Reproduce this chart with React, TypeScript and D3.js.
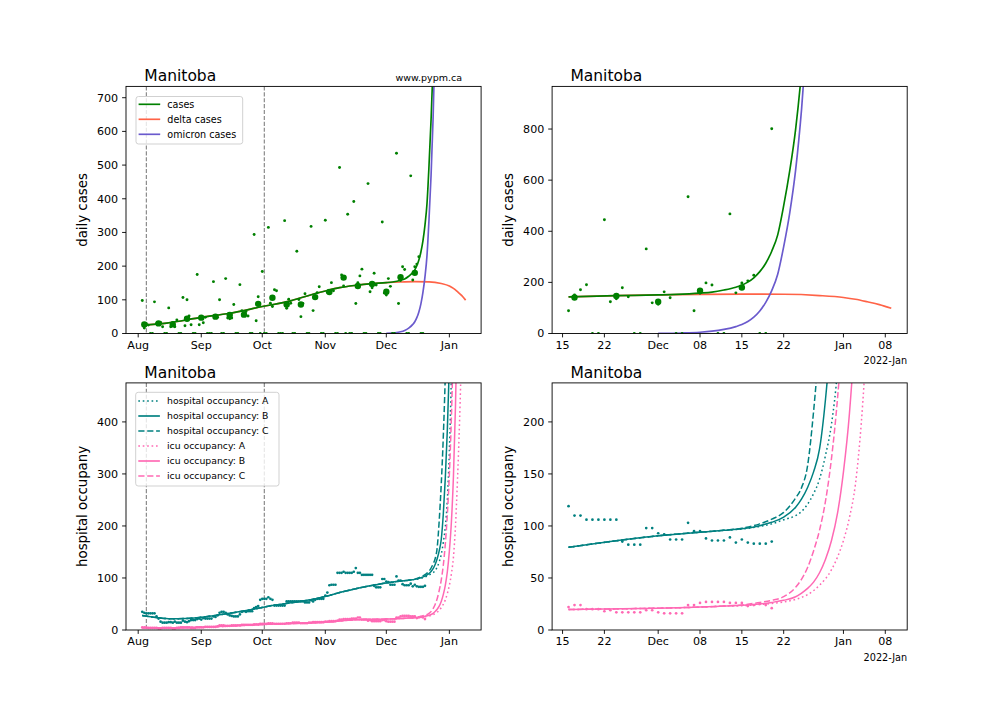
import React from 'react';
import * as d3 from 'd3';

const FONT = "'DejaVu Sans', 'Liberation Sans', sans-serif";

// ---------------- DATA ----------------
// daily reported cases, one value per day starting 2021-08-03
const casesStart = '2021-08-03';
const dailyCases = [
  // Aug 3 - Aug 31
  98, 16, 29, 25, 0, 0, 94, 30, 33, 33, 20, 0, 0, 76, 20, 33, 20, 40, 0, 0, 107, 23, 100, 52, 26, 0, 0, 175, 26,
  // Sep
  48, 32, 48, 0, 0, 0, 154, 48, 48, 100, 0, 0, 163, 46, 44, 46, 86, 0, 0, 145, 68, 62, 65, 52, 0, 0, 294, 38, 109, 0,
  // Oct
  184, 0, 0, 315, 90, 80, 130, 127, 0, 0, 0, 335, 75, 102, 90, 0, 0, 244, 101, 50, 89, 118, 0, 0, 318, 68, 110, 121, 139, 0, 0,
  // Nov
  336, 122, 125, 151, 127, 0, 0, 493, 174, 141, 0, 354, 0, 0, 392, 89, 151, 171, 191, 0, 0, 445, 124, 136, 179, 144, 0, 0, 331, 120,
  // Dec 1 - Dec 20
  114, 163, 140, 0, 0, 535, 89, 157, 198, 190, 0, 0, 468, 159, 198, 206, 228, 0, 0, 801,
];

// weekly markers (large dots)
const weeklyDates = [
  '2021-08-04', '2021-08-11', '2021-08-18', '2021-08-25', '2021-09-01', '2021-09-08', '2021-09-15',
  '2021-09-22', '2021-09-29', '2021-10-06', '2021-10-13', '2021-10-20', '2021-10-27', '2021-11-03',
  '2021-11-10', '2021-11-17', '2021-11-24', '2021-12-01', '2021-12-08', '2021-12-15',
];
const weeklyCases = [27, 30, 27, 44, 47, 50, 55, 56, 88, 106, 86, 86, 108, 123, 166, 141, 147, 124, 167, 180];

// model: delta cases
const deltaDates = [
  '2021-08-03', '2021-08-15', '2021-09-01', '2021-09-15', '2021-10-01', '2021-10-15', '2021-10-20',
  '2021-11-01', '2021-11-08', '2021-11-16', '2021-11-24', '2021-12-01', '2021-12-08', '2021-12-15',
  '2021-12-22', '2021-12-28', '2022-01-01', '2022-01-03', '2022-01-05', '2022-01-07', '2022-01-09',
];
const deltaValues = [25, 31, 48, 60, 80, 97, 106, 126, 136, 143, 148, 151, 153, 154, 153.5, 148.5, 141, 134, 124, 113, 99];

// model: total cases
const casesCurveDates = [
  '2021-08-03', '2021-08-15', '2021-09-01', '2021-09-15', '2021-10-01', '2021-10-15', '2021-10-20',
  '2021-11-01', '2021-11-08', '2021-11-16', '2021-11-24', '2021-12-01', '2021-12-04', '2021-12-08',
  '2021-12-10', '2021-12-12', '2021-12-14', '2021-12-15', '2021-12-16', '2021-12-17', '2021-12-18',
  '2021-12-19', '2021-12-20', '2021-12-21', '2021-12-22', '2021-12-23', '2021-12-24', '2021-12-25', '2021-12-26',
];
const casesCurveValues = [
  25, 31, 48, 60, 80, 97, 106, 126, 136, 143, 148, 151, 153, 158, 162, 170, 181, 189, 201, 218, 242,
  275, 322, 386, 500, 635, 800, 1030, 1350,
];

// model: omicron cases
const omicronDates = [
  '2021-12-01', '2021-12-05', '2021-12-08', '2021-12-10', '2021-12-12', '2021-12-14', '2021-12-15',
  '2021-12-16', '2021-12-17', '2021-12-18', '2021-12-19', '2021-12-20', '2021-12-21', '2021-12-22',
  '2021-12-23', '2021-12-24', '2021-12-25', '2021-12-26',
];
const omicronValues = [0.3, 2, 5, 9, 16, 27, 35, 47, 64, 88, 122, 168, 232, 340, 470, 640, 880, 1200];

// hospital / icu occupancy, daily from 2021-08-03
const hospStart = '2021-08-03';
const hospDaily = [
  35, 33, 32, 32, 32, 32, 32, 26, 22, 16, 14, 14, 14, 15, 15, 14, 16, 14, 14, 14, 18, 16, 15, 17, 19, 19, 19, 21, 22,
  20, 23, 22, 22, 22, 22, 26, 25, 28, 33, 35, 35, 33, 30, 28, 27, 26, 26, 26, 30, 35, 36, 35, 36, 36, 36, 42, 44, 46, 58,
  60, 60, 60, 63, 60, 58, 47, 47, 47, 47, 47, 47, 55, 55, 55, 55, 55, 55, 55, 55, 55, 53, 53, 53, 57, 55, 58, 60, 60, 60, 60,
  66, 72, 86, 87, 87, 87, 110, 110, 110, 112, 110, 110, 110, 110, 112, 119, 110, 110, 106, 106, 106, 106, 106, 106, 85, 82, 82, 82, 98, 98,
  93, 92, 87, 87, 87, 103, 95, 95, 88, 86, 86, 86, 89, 84, 87, 84, 83, 83, 83, 85,
];
const icuDaily = [
  5, 5, 5, 4, 4, 4, 4, 4, 3, 3, 4, 4, 4, 4, 4, 3, 3, 4, 4, 5, 5, 5, 5, 5, 4, 4, 4, 5, 5,
  5, 5, 6, 6, 6, 6, 6, 6, 7, 9, 9, 9, 8, 8, 8, 9, 9, 9, 9, 9, 10, 10, 10, 10, 10, 10, 11, 11, 11, 12,
  12, 12, 12, 13, 13, 13, 12, 12, 12, 12, 12, 12, 13, 13, 13, 14, 14, 14, 14, 13, 13, 13, 13, 14, 14, 15, 15, 15, 15, 15, 15,
  16, 16, 17, 17, 17, 17, 18, 20, 20, 21, 21, 21, 21, 22, 22, 22, 24, 24, 20, 20, 20, 18, 19, 17, 17, 17, 17, 17, 19, 19,
  17, 16, 16, 16, 16, 24, 24, 26, 27, 27, 27, 27, 26, 26, 26, 23, 24, 25, 24, 21,
];

// model: hospital occupancy (shared early part)
const hospEarlyDates = [
  '2021-08-03', '2021-08-10', '2021-08-17', '2021-08-24', '2021-08-31', '2021-09-07', '2021-09-14',
  '2021-09-21', '2021-09-28', '2021-10-05', '2021-10-12', '2021-10-19', '2021-10-26', '2021-11-02',
  '2021-11-09', '2021-11-16', '2021-11-23', '2021-12-01', '2021-12-08', '2021-12-12',
];
const hospEarlyValues = [28, 24, 21.5, 22, 24, 27.5, 31.5, 36, 41, 46.5, 50.5, 54.5, 59, 65.5, 73, 79.5, 85, 90.5, 94, 95.8];

const hospADates = ['2021-12-15', '2021-12-18', '2021-12-20', '2021-12-22', '2021-12-24', '2021-12-25', '2021-12-26', '2021-12-27', '2021-12-28', '2021-12-29', '2021-12-30', '2021-12-31', '2022-01-01', '2022-01-02', '2022-01-03'];
const hospAValues = [97, 99.5, 102, 106, 110, 114, 121, 131, 145, 168, 198, 250, 345, 490, 680];
const hospBDates = ['2021-12-15', '2021-12-18', '2021-12-20', '2021-12-22', '2021-12-24', '2021-12-25', '2021-12-26', '2021-12-27', '2021-12-28', '2021-12-29', '2021-12-30', '2021-12-31', '2022-01-01', '2022-01-02'];
const hospBValues = [97.3, 100.3, 103.5, 108.5, 118, 126, 137, 152, 174, 222, 292, 385, 510, 680];
const hospCDates = ['2021-12-15', '2021-12-18', '2021-12-20', '2021-12-22', '2021-12-24', '2021-12-25', '2021-12-26', '2021-12-27', '2021-12-28', '2021-12-29', '2021-12-30', '2021-12-31'];
const hospCValues = [97.8, 102, 106.5, 113, 127, 137, 158, 210, 280, 370, 490, 650];

// model: icu occupancy (shared early part)
const icuEarlyDates = ['2021-08-03', '2021-08-17', '2021-09-01', '2021-09-15', '2021-10-01', '2021-10-15', '2021-11-01', '2021-11-16', '2021-12-01', '2021-12-08', '2021-12-12'];
const icuEarlyValues = [4.5, 4.5, 5.5, 7.5, 10.5, 12.5, 15, 19.7, 21, 22, 23];

const icuADates = ['2021-12-15', '2021-12-18', '2021-12-20', '2021-12-22', '2021-12-24', '2021-12-26', '2021-12-28', '2021-12-30', '2021-12-31', '2022-01-01', '2022-01-02', '2022-01-03', '2022-01-04', '2022-01-05', '2022-01-06', '2022-01-07'];
const icuAValues = [23.3, 24.5, 25.5, 27, 29.5, 34, 43, 58, 70, 86, 108, 140, 200, 290, 400, 540];
const icuBDates = ['2021-12-15', '2021-12-18', '2021-12-20', '2021-12-22', '2021-12-24', '2021-12-25', '2021-12-26', '2021-12-27', '2021-12-28', '2021-12-29', '2021-12-30', '2021-12-31', '2022-01-01', '2022-01-02', '2022-01-03', '2022-01-04', '2022-01-05'];
const icuBValues = [23.7, 25, 26.5, 28.5, 32, 35.5, 40, 46, 55, 68, 86, 112, 152, 208, 295, 430, 620];
const icuCDates = ['2021-12-15', '2021-12-18', '2021-12-20', '2021-12-22', '2021-12-24', '2021-12-25', '2021-12-26', '2021-12-27', '2021-12-28', '2021-12-29', '2021-12-30', '2021-12-31', '2022-01-01', '2022-01-02', '2022-01-03'];
const icuCValues = [24, 26.5, 28.5, 32, 41, 49, 60, 76, 96, 124, 165, 222, 300, 410, 560];

// ticks
const leftTickDates = ['2021-08-01', '2021-09-01', '2021-10-01', '2021-11-01', '2021-12-01', '2022-01-01'];
const leftTickLabels = ['Aug', 'Sep', 'Oct', 'Nov', 'Dec', 'Jan'];
const rightTickDates = ['2021-11-15', '2021-11-22', '2021-12-01', '2021-12-08', '2021-12-15', '2021-12-22', '2022-01-01', '2022-01-08'];
const rightTickLabels = ['15', '22', 'Dec', '08', '15', '22', 'Jan', '08'];
const casesLeftYTicks = [0, 100, 200, 300, 400, 500, 600, 700];
const casesRightYTicks = [0, 200, 400, 600, 800];
const hospLeftYTicks = [0, 100, 200, 300, 400];
const hospRightYTicks = [0, 50, 100, 150, 200];
const markerDates = ['2021-08-05', '2021-10-02'];

// ---------------- HELPERS ----------------
const parseDay = (s: string) => {
  const [y, m, d] = s.split('-').map(Number);
  return new Date(y, m - 1, d);
};
type Pt = { t: Date; v: number };
const zipPts = (dates: string[], values: number[]): Pt[] => dates.map((d, i) => ({ t: parseDay(d), v: values[i] }));
const dailyPts = (start: string, values: number[]): Pt[] =>
  values.map((v, i) => ({ t: d3.timeDay.offset(parseDay(start), i), v }));

const GREEN = '#008000';
const TOMATO = '#ff6347';
const SLATE = '#6a5acd';
const TEAL = '#008080';
const PINK = '#ff69b4';
const DASH = '6.2,2.7';
const DOT = '1.67,2.75';

const L1 = 126, L2 = 552.1, PW = 355.1;
const T1 = 86.4, T2 = 382.9, PH = 247.1;
const RIGHT_START = parseDay('2021-11-16');

const leftDomain: [Date, Date] = [new Date(2021, 6, 26, 0), new Date(2022, 0, 16, 14, 24)];
const rightDomain: [Date, Date] = [new Date(2021, 10, 13, 6), new Date(2022, 0, 11, 16)];

type PanelProps = {
  id: string;
  left: number;
  top: number;
  xDomain: [Date, Date];
  yMax: number;
  xTickDates: string[];
  xTickLabels: string[];
  yTicks: number[];
  ylabel: string;
  offset?: string;
  render: (x: d3.ScaleTime<number, number>, y: d3.ScaleLinear<number, number>) => React.ReactNode;
  overlay?: React.ReactNode;
};

function Panel(p: PanelProps) {
  const x = d3.scaleTime().domain(p.xDomain).range([p.left, p.left + PW]);
  const y = d3.scaleLinear().domain([0, p.yMax]).range([p.top + PH, p.top]);
  const bottom = p.top + PH;
  return (
    <g>
      <defs>
        <clipPath id={`clip-${p.id}`}>
          <rect x={p.left} y={p.top} width={PW} height={PH} />
        </clipPath>
      </defs>
      <g clipPath={`url(#clip-${p.id})`}>{p.render(x, y)}</g>
      {p.overlay}
      <rect x={p.left} y={p.top} width={PW} height={PH} fill="none" stroke="#000" strokeWidth={0.9} />
      {p.xTickDates.map((d, i) => {
        const xx = x(parseDay(d));
        return (
          <g key={`xt${i}`}>
            <line x1={xx} x2={xx} y1={bottom} y2={bottom + 3.9} stroke="#000" strokeWidth={0.9} />
            <text x={xx} y={bottom + 15.4} textAnchor="middle" fontSize={11.1} fontFamily={FONT} fill="#000">
              {p.xTickLabels[i]}
            </text>
          </g>
        );
      })}
      {p.yTicks.map((v, i) => {
        const yy = y(v);
        return (
          <g key={`yt${i}`}>
            <line x1={p.left - 3.9} x2={p.left} y1={yy} y2={yy} stroke="#000" strokeWidth={0.9} />
            <text x={p.left - 7.8} y={yy} dy="0.36em" textAnchor="end" fontSize={11.1} fontFamily={FONT} fill="#000">
              {v}
            </text>
          </g>
        );
      })}
      <text x={p.left + 18.3} y={p.top - 5.4} fontSize={15.5} fontFamily={FONT} fill="#000">
        Manitoba
      </text>
      <text
        transform={`translate(${p.left - 39},${p.top + PH / 2}) rotate(-90)`}
        textAnchor="middle"
        fontSize={13.3}
        fontFamily={FONT}
        fill="#000"
      >
        {p.ylabel}
      </text>
      {p.offset && (
        <text x={p.left + PW} y={bottom + 30.6} textAnchor="end" fontSize={9.7} fontFamily={FONT} fill="#000">
          {p.offset}
        </text>
      )}
    </g>
  );
}

function LegendBox(props: {
  x: number; y: number; w: number; h: number; rowY: number; fontSize: number;
  items: { label: string; color: string; dash?: string }[];
}) {
  const { x, y, w, h, rowY, items, fontSize } = props;
  return (
    <g>
      <rect x={x} y={y} width={w} height={h} rx={2.5} fill="#fff" fillOpacity={0.8} stroke="#cccccc" strokeWidth={0.9} />
      {items.map((it, i) => {
        const yy = rowY + i * 15;
        return (
          <g key={i}>
            <line x1={x + 2.6} x2={x + 24.2} y1={yy} y2={yy} stroke={it.color} strokeWidth={1.67} strokeDasharray={it.dash} />
            <text x={x + 31.3} y={yy} dy="0.35em" fontSize={fontSize} fontFamily={FONT} fill="#000">
              {it.label}
            </text>
          </g>
        );
      })}
    </g>
  );
}

export default function App() {
  const casesPts = dailyPts(casesStart, dailyCases);
  const weeklyPts = zipPts(weeklyDates, weeklyCases);
  const deltaPts = zipPts(deltaDates, deltaValues);
  const casesCurve = zipPts(casesCurveDates, casesCurveValues);
  const omicronPts = zipPts(omicronDates, omicronValues);
  const hospPts = dailyPts(hospStart, hospDaily);
  const icuPts = dailyPts(hospStart, icuDaily);
  const hospEarly = zipPts(hospEarlyDates, hospEarlyValues);
  const icuEarly = zipPts(icuEarlyDates, icuEarlyValues);
  const hospCurves = [
    { pts: hospEarly.concat(zipPts(hospADates, hospAValues)), color: TEAL, dash: DOT },
    { pts: hospEarly.concat(zipPts(hospBDates, hospBValues)), color: TEAL, dash: undefined },
    { pts: hospEarly.concat(zipPts(hospCDates, hospCValues)), color: TEAL, dash: DASH },
    { pts: icuEarly.concat(zipPts(icuADates, icuAValues)), color: PINK, dash: DOT },
    { pts: icuEarly.concat(zipPts(icuBDates, icuBValues)), color: PINK, dash: undefined },
    { pts: icuEarly.concat(zipPts(icuCDates, icuCValues)), color: PINK, dash: DASH },
  ];

  const rightOnly = (pts: Pt[]) => pts.filter((p) => p.t >= RIGHT_START);

  const mkLine = (x: any, y: any) =>
    d3.line<Pt>().x((d) => x(d.t)).y((d) => y(d.v)).curve(d3.curveMonotoneX);

  const vlines = (x: any, top: number) =>
    markerDates.map((d, i) => (
      <line key={`vl${i}`} x1={x(parseDay(d))} x2={x(parseDay(d))} y1={top} y2={top + PH}
        stroke="#808080" strokeWidth={1.1} strokeDasharray="4.1,1.8" />
    ));

  const casesRender = (right: boolean, top: number) => (x: any, y: any) => {
    const f = right ? rightOnly : (p: Pt[]) => p;
    const line = mkLine(x, y);
    return (
      <g>
        {!right && vlines(x, top)}
        <path d={line(f(deltaPts)) || ''} fill="none" stroke={TOMATO} strokeWidth={1.67} />
        <path d={line(f(casesCurve)) || ''} fill="none" stroke={GREEN} strokeWidth={1.67} />
        <path d={line(f(omicronPts)) || ''} fill="none" stroke={SLATE} strokeWidth={1.67} />
        {f(casesPts).map((p, i) => (
          <circle key={`c${i}`} cx={x(p.t)} cy={y(p.v)} r={1.45} fill={GREEN} />
        ))}
        {f(weeklyPts).map((p, i) => (
          <circle key={`w${i}`} cx={x(p.t)} cy={y(p.v)} r={3.2} fill={GREEN} />
        ))}
      </g>
    );
  };

  const hospRender = (right: boolean, top: number) => (x: any, y: any) => {
    const f = right ? rightOnly : (p: Pt[]) => p;
    const line = mkLine(x, y);
    return (
      <g>
        {!right && vlines(x, top)}
        {f(hospPts).map((p, i) => (
          <circle key={`h${i}`} cx={x(p.t)} cy={y(p.v)} r={1.35} fill={TEAL} />
        ))}
        {f(icuPts).map((p, i) => (
          <circle key={`i${i}`} cx={x(p.t)} cy={y(p.v)} r={1.35} fill={PINK} />
        ))}
        {hospCurves.map((c, i) => (
          <path key={`hc${i}`} d={line(f(c.pts)) || ''} fill="none" stroke={c.color} strokeWidth={1.5} strokeDasharray={c.dash} />
        ))}
      </g>
    );
  };

  return (
    <svg width={1008} height={720} style={{ display: 'block', background: '#fff', position: 'absolute', left: 0, top: 0 }}>
      <rect x={0} y={0} width={1008} height={720} fill="#fff" />
      <Panel
        id="tl" left={L1} top={T1} xDomain={leftDomain} yMax={733.6}
        xTickDates={leftTickDates} xTickLabels={leftTickLabels} yTicks={casesLeftYTicks}
        ylabel="daily cases" render={casesRender(false, T1)}
        overlay={
          <g>
            <LegendBox x={136} y={96.5} w={106.7} h={47.5} rowY={104.3} fontSize={9.6}
              items={[
                { label: 'cases', color: GREEN },
                { label: 'delta cases', color: TOMATO },
                { label: 'omicron cases', color: SLATE },
              ]} />
            <text x={462} y={80.8} textAnchor="end" fontSize={9.5} fontFamily={FONT} fill="#000">www.pypm.ca</text>
          </g>
        }
      />
      <Panel
        id="tr" left={L2} top={T1} xDomain={rightDomain} yMax={966.8}
        xTickDates={rightTickDates} xTickLabels={rightTickLabels} yTicks={casesRightYTicks}
        ylabel="daily cases" offset="2022-Jan" render={casesRender(true, T1)}
      />
      <Panel
        id="bl" left={L1} top={T2} xDomain={leftDomain} yMax={475}
        xTickDates={leftTickDates} xTickLabels={leftTickLabels} yTicks={hospLeftYTicks}
        ylabel="hospital occupany" render={hospRender(false, T2)}
        overlay={
          <LegendBox x={135.7} y={392.3} w={143.3} h={93.7} rowY={401} fontSize={9.3}
            items={[
              { label: 'hospital occupancy: A', color: TEAL, dash: DOT },
              { label: 'hospital occupancy: B', color: TEAL },
              { label: 'hospital occupancy: C', color: TEAL, dash: DASH },
              { label: 'icu occupancy: A', color: PINK, dash: DOT },
              { label: 'icu occupancy: B', color: PINK },
              { label: 'icu occupancy: C', color: PINK, dash: DASH },
            ]} />
        }
      />
      <Panel
        id="br" left={L2} top={T2} xDomain={rightDomain} yMax={237.5}
        xTickDates={rightTickDates} xTickLabels={rightTickLabels} yTicks={hospRightYTicks}
        ylabel="hospital occupany" offset="2022-Jan" render={hospRender(true, T2)}
      />
    </svg>
  );
}
